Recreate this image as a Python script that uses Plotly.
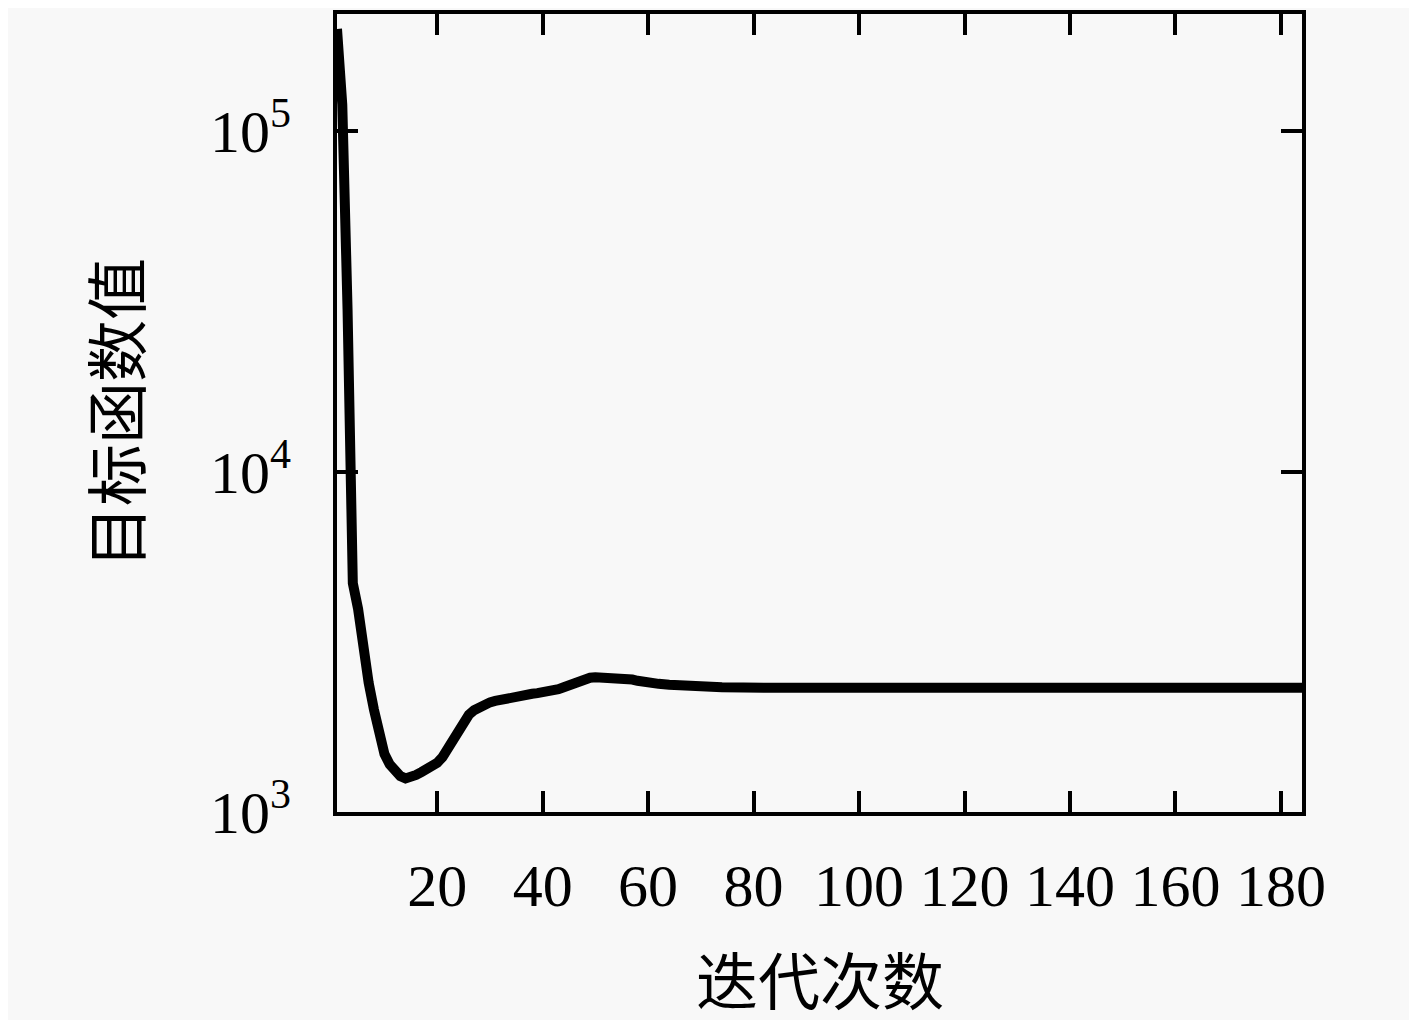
import plotly.graph_objects as go

# iteration number and objective value
iters = list(range(1, 61)) + [62, 64, 66, 68, 70, 74, 78, 82, 86, 88, 90, 94, 100, 110, 120, 130, 140, 150, 160, 170, 184]
obj_vals = [
    200000, 120000, 30000, 4700, 3950, 3000, 2400, 2000, 1720, 1480,
    1380, 1310, 1275, 1255, 1262, 1285, 1310, 1335, 1360, 1395,
    1450, 1530, 1640, 1750, 1850, 1930, 1990, 2035, 2070, 2100,
    2120, 2140, 2160, 2180, 2195, 2205, 2215, 2225, 2235, 2245,
    2255, 2270, 2295, 2325, 2360, 2395, 2430, 2460, 2480, 2490,
    2490, 2490, 2485, 2480, 2475, 2470, 2450, 2430, 2410, 2395,
    2380, 2365, 2350, 2340, 2330, 2325, 2320, 2318, 2330, 2312,
    2318, 2317, 2317, 2317, 2317, 2317, 2317, 2317, 2317, 2317, 2317,
]

x_ticks = [20, 40, 60, 80, 100, 120, 140, 160, 180]
y_ticks = [1e3, 1e4, 1e5]
y_tick_text = ["10<sup>3</sup>", "10<sup>4</sup>", "10<sup>5</sup>"]

FONT = "Liberation Serif, Noto Sans CJK SC, serif"

fig = go.Figure()
fig.add_trace(go.Scatter(
    x=iters, y=obj_vals, mode="lines",
    line=dict(color="black", width=10),
    showlegend=False,
))

fig.update_xaxes(
    range=[1, 184],
    tickvals=x_ticks,
    ticks="inside", ticklen=21, tickwidth=4, tickcolor="black",
    showline=True, linewidth=4, linecolor="black", mirror="ticks",
    showgrid=False, zeroline=False,
    tickfont=dict(family=FONT, size=60, color="black"),
    ticklabelstandoff=18,
)
fig.update_yaxes(
    type="log",
    range=[3, 5.345],
    tickvals=y_ticks, ticktext=y_tick_text,
    ticks="inside", ticklen=21, tickwidth=4, tickcolor="black",
    showline=True, linewidth=4, linecolor="black", mirror="ticks",
    showgrid=False, zeroline=False,
    tickfont=dict(family=FONT, size=60, color="black"),
    ticklabelstandoff=30,
)

# page adds an 8px body margin, so the figure is a bit smaller than the window
fig.update_layout(
    width=1401, height=1012,
    margin=dict(l=329, r=107, t=2, b=208),
    paper_bgcolor="#f8f8f8", plot_bgcolor="#f8f8f8",
    annotations=[
        dict(text="迭代次数", xref="paper", yref="paper", x=0.5, y=0,
             xanchor="center", yanchor="middle", yshift=-172, showarrow=False,
             font=dict(family=FONT, size=62, color="black")),
        dict(text="目标函数值", xref="paper", yref="paper", x=0, y=0.5,
             xanchor="center", yanchor="middle", xshift=-217, textangle=-90,
             showarrow=False, font=dict(family=FONT, size=62, color="black")),
    ],
)

fig.write_html("out.html")
